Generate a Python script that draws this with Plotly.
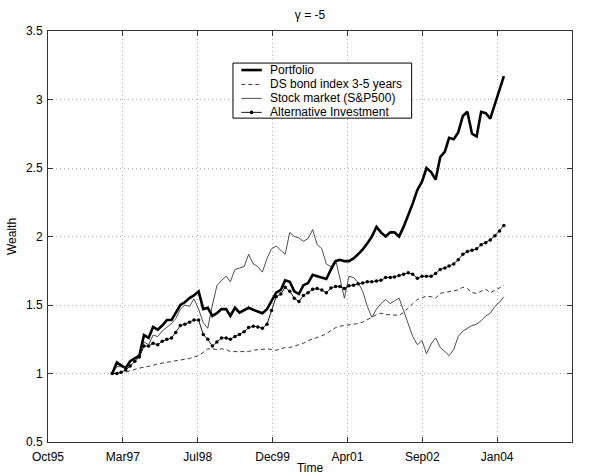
import pandas as pd
import plotly.graph_objects as go

# Monthly wealth paths, Jan 1997 .. Mar 2004 (start value 1)
dates = pd.date_range("1997-01-01", periods=87, freq="MS")

portfolio = [
    1.00, 1.08, 1.06, 1.04, 1.09, 1.11, 1.13, 1.28, 1.26, 1.34,
    1.32, 1.35, 1.39, 1.39, 1.44, 1.50, 1.52, 1.55, 1.57, 1.60,
    1.47, 1.48, 1.42, 1.44, 1.47, 1.47, 1.42, 1.48, 1.445, 1.46,
    1.48, 1.465, 1.45, 1.44, 1.47, 1.535, 1.59, 1.61, 1.68, 1.67,
    1.60, 1.58, 1.645, 1.66, 1.72, 1.71, 1.70, 1.69, 1.76, 1.82,
    1.83, 1.82, 1.82, 1.84, 1.87, 1.905, 1.95, 2.00, 2.07, 2.03,
    2.00, 2.03, 2.03, 2.00, 2.07, 2.15, 2.24, 2.34, 2.40, 2.50,
    2.47, 2.415, 2.58, 2.62, 2.72, 2.71, 2.76, 2.88, 2.91, 2.75,
    2.73, 2.91, 2.90, 2.86, 2.96, 3.06, 3.17,
]

bond_index = [
    1.00, 1.00, 1.005, 1.01, 1.02, 1.03, 1.04, 1.045, 1.05, 1.06,
    1.07, 1.075, 1.08, 1.09, 1.095, 1.10, 1.105, 1.11, 1.12, 1.13,
    1.155, 1.18, 1.18, 1.175, 1.18, 1.175, 1.16, 1.16, 1.16, 1.165,
    1.16, 1.17, 1.175, 1.175, 1.18, 1.175, 1.17, 1.18, 1.19, 1.19,
    1.20, 1.21, 1.22, 1.24, 1.25, 1.26, 1.275, 1.29, 1.315, 1.335,
    1.345, 1.35, 1.35, 1.355, 1.365, 1.375, 1.39, 1.41, 1.43, 1.44,
    1.43, 1.43, 1.43, 1.425, 1.445, 1.48, 1.51, 1.54, 1.555, 1.565,
    1.56, 1.55, 1.585, 1.59, 1.595, 1.605, 1.61, 1.63, 1.62, 1.59,
    1.585, 1.60, 1.615, 1.59, 1.605, 1.625, 1.645,
]

stock_market = [
    1.00, 1.05, 1.05, 1.04, 1.08, 1.11, 1.14, 1.23, 1.21, 1.28,
    1.27, 1.31, 1.34, 1.365, 1.40, 1.47, 1.50, 1.49, 1.545, 1.47,
    1.37, 1.33, 1.50, 1.64, 1.68, 1.71, 1.67, 1.76, 1.77, 1.78,
    1.87, 1.80, 1.78, 1.74, 1.84, 1.91, 1.93, 1.90, 1.87, 2.03,
    2.00, 1.99, 1.965, 1.985, 2.05, 1.94, 1.91, 1.80, 1.78, 1.83,
    1.69, 1.55, 1.71, 1.70, 1.665, 1.60, 1.49, 1.41, 1.47, 1.51,
    1.54, 1.51, 1.53, 1.55, 1.46, 1.37, 1.27, 1.21, 1.24, 1.145,
    1.215, 1.26, 1.19, 1.16, 1.13, 1.175, 1.27, 1.31, 1.33, 1.35,
    1.36, 1.385, 1.42, 1.44, 1.49, 1.52, 1.56,
]

alternative = [
    1.00, 1.00, 1.01, 1.025, 1.055, 1.09, 1.12, 1.20, 1.20, 1.22,
    1.21, 1.235, 1.25, 1.26, 1.30, 1.35, 1.36, 1.375, 1.39, 1.39,
    1.285, 1.25, 1.20, 1.23, 1.26, 1.26, 1.25, 1.27, 1.285, 1.305,
    1.335, 1.345, 1.34, 1.33, 1.36, 1.46, 1.56, 1.58, 1.63, 1.60,
    1.55, 1.525, 1.57, 1.59, 1.615, 1.62, 1.61, 1.59, 1.625, 1.635,
    1.635, 1.62, 1.64, 1.645, 1.655, 1.66, 1.67, 1.67, 1.675, 1.68,
    1.70, 1.70, 1.705, 1.715, 1.725, 1.735, 1.725, 1.695, 1.71, 1.71,
    1.71, 1.73, 1.76, 1.77, 1.785, 1.80, 1.83, 1.87, 1.89, 1.90,
    1.91, 1.94, 1.955, 1.975, 2.005, 2.04, 2.08,
]

series_names = [
    "Portfolio",
    "DS bond index 3-5 years",
    "Stock market (S&P500)",
    "Alternative Investment",
]

x_tick_labels = ["Oct95", "Mar97", "Jul98", "Dec99", "Apr01", "Sep02", "Jan04", "May05"]
y_ticks = [0.5, 1, 1.5, 2, 2.5, 3, 3.5]

FONT = "Liberation Sans, Arial, Helvetica, sans-serif"

# Date ticks every 500 days, as MATLAB's datetick placed them
tick_start = pd.Timestamp("1995-10-30")
x_tick_vals = [tick_start + pd.Timedelta(days=500 * k) for k in range(len(x_tick_labels))]

styles = [
    dict(color="black", width=2.6),
    dict(color="#222", width=0.9, dash="4px,3px"),
    dict(color="#222", width=0.8),
    dict(color="black", width=0.9),
]
values = [portfolio, bond_index, stock_market, alternative]

fig = go.Figure()
for name, ys, st in zip(series_names, values, styles):
    is_alt = name == "Alternative Investment"
    fig.add_trace(go.Scatter(
        x=dates, y=ys, name=name,
        mode="lines+markers" if is_alt else "lines",
        line=st,
        marker=dict(size=3.5, color="black") if is_alt else None,
        showlegend=False,
    ))

# Hand-drawn legend box in the upper middle of the axes
L_X0, L_X1, L_Y0, L_Y1 = 0.353, 0.694, 0.788, 0.922
entry_y = [0.905, 0.870, 0.836, 0.802]
seg_x0, seg_x1, text_x = 0.369, 0.408, 0.420

shapes = [dict(type="rect", xref="paper", yref="paper",
               x0=L_X0, x1=L_X1, y0=L_Y0, y1=L_Y1,
               line=dict(color="black", width=1), fillcolor="white", layer="above")]
annotations = []
for name, st, yy in zip(series_names, styles, entry_y):
    shapes.append(dict(type="line", xref="paper", yref="paper",
                       x0=seg_x0, x1=seg_x1, y0=yy, y1=yy,
                       line=st, layer="above"))
    annotations.append(dict(xref="paper", yref="paper", x=text_x, y=yy,
                            text=name, showarrow=False, xanchor="left", yanchor="middle",
                            font=dict(family=FONT, size=12, color="black")))
# dot marker on the alternative-investment legend sample
mid = (seg_x0 + seg_x1) / 2
shapes.append(dict(type="circle", xref="paper", yref="paper",
                   x0=mid - 0.0035, x1=mid + 0.0035, y0=entry_y[3] - 0.0045, y1=entry_y[3] + 0.0045,
                   fillcolor="black", line=dict(width=0), layer="above"))

axis_common = dict(
    showline=True, linecolor="#333", linewidth=1, mirror="ticks",
    ticks="inside", ticklen=5, tickcolor="#333",
    showgrid=True, gridcolor="#b0b0b0", gridwidth=1, griddash="1px,3px",
    zeroline=False, automargin=False,
    tickfont=dict(family=FONT, size=12, color="black"),
)

fig.update_layout(
    width=590, height=475,
    margin=dict(l=48, r=18, t=31, b=33),
    paper_bgcolor="white", plot_bgcolor="white",
    title=dict(text="γ = -5", x=0.5, xref="paper", y=0.968, yanchor="middle",
               font=dict(family=FONT, size=12, color="black")),
    xaxis=dict(
        type="date",
        range=[x_tick_vals[0], x_tick_vals[-1]],
        tickmode="array", tickvals=x_tick_vals, ticktext=x_tick_labels,
        ticklabelstandoff=4,
        title=dict(text="Time", standoff=0, font=dict(family=FONT, size=12, color="black")),
        **axis_common,
    ),
    yaxis=dict(
        range=[0.5, 3.5],
        tickmode="array", tickvals=y_ticks,
        ticklabelstandoff=2,
        title=dict(text="Wealth", standoff=6, font=dict(family=FONT, size=12, color="black")),
        **axis_common,
    ),
    shapes=shapes,
    annotations=annotations,
)

fig.write_html("out.html")
